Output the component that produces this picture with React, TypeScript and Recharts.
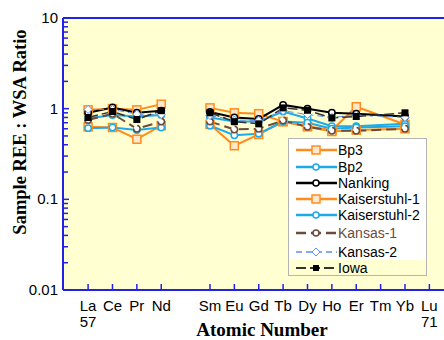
import React, { useEffect } from 'react';
import {
  LineChart,
  Line,
  XAxis,
  YAxis,
  CartesianGrid,
  ReferenceLine,
  Legend,
} from 'recharts';

// element symbols and atomic numbers, 57..71
const ELEMENTS = ['La', 'Ce', 'Pr', 'Nd', 'Pm', 'Sm', 'Eu', 'Gd', 'Tb', 'Dy', 'Ho', 'Er', 'Tm', 'Yb', 'Lu'];
const ATOMIC = [57, 58, 59, 60, 61, 62, 63, 64, 65, 66, 67, 68, 69, 70, 71];

// ratios per element (null = not measured)
const bp3 = [0.97, 1.0, 0.97, 1.12, null, 1.02, 0.9, 0.88, 0.72, 0.64, 0.58, 1.05, null, 0.67, null];
const bp2 = [0.78, 0.85, 0.82, 0.85, null, 0.8, 0.72, 0.72, 0.93, 0.78, 0.64, 0.64, null, 0.68, null];
const nanking = [0.9, 1.03, 0.9, 0.95, null, 0.92, 0.8, 0.77, 1.1, 1.0, 0.9, 0.88, null, 0.82, null];
const kaiserstuhl1 = [0.63, 0.62, 0.46, 0.65, null, 0.67, 0.39, 0.52, 0.72, 0.63, 0.56, 0.58, null, 0.6, null];
const kaiserstuhl2 = [0.61, 0.62, 0.58, 0.62, null, 0.65, 0.51, 0.53, 0.72, 0.7, 0.6, 0.62, null, 0.64, null];
const kansas1 = [0.75, 0.88, 0.6, 0.72, null, 0.72, 0.59, 0.6, 0.74, 0.63, 0.57, 0.57, null, 0.6, null];
const kansas2 = [0.98, 0.98, 0.87, 0.86, null, 0.84, 0.75, 0.74, 0.95, 0.86, 0.8, 0.85, null, 0.8, null];
const iowa = [0.8, 0.93, 0.76, 0.95, null, 0.9, 0.72, 0.68, 1.02, 0.96, 0.79, 0.82, null, 0.9, null];

const X_TICKS = [57, 58, 59, 60, 62, 63, 64, 65, 66, 67, 68, 69, 70, 71];
const Y_TICKS = [
  0.01, 0.02, 0.03, 0.04, 0.05, 0.06, 0.07, 0.08, 0.09,
  0.1, 0.2, 0.3, 0.4, 0.5, 0.6, 0.7, 0.8, 0.9,
  1, 2, 3, 4, 5, 6, 7, 8, 9, 10,
];
const Y_LABELS = [0.01, 0.1, 1, 10];

const ORANGE = '#ff8c1e';
const BLUE = '#1eaae6';
const BROWN = '#6b4c3c';
const LIGHTBLUE = '#5b8ff0';
const AXIS = '#2222e6';
const BG = '#ffffd2';
const FONT = '"Liberation Sans", Arial, sans-serif';
const SERIF = '"Liberation Serif", "Times New Roman", serif';

// Tm and Lu have no values: leave them out so Er joins Yb; Pm stays as a gap
const data = ATOMIC.map((z, i) => ({
  z,
  bp3: bp3[i],
  bp2: bp2[i],
  nanking: nanking[i],
  kaiserstuhl1: kaiserstuhl1[i],
  kaiserstuhl2: kaiserstuhl2[i],
  kansas1: kansas1[i],
  kansas2: kansas2[i],
  iowa: iowa[i],
})).filter((r) => r.z !== 69 && r.z !== 71);

const Square = ({ cx, cy, stroke, fill }: any) => {
  if (cx == null || cy == null) return null;
  return <rect x={cx - 4} y={cy - 4} width={8} height={8} fill={fill} stroke={stroke} strokeWidth={1.5} />;
};

const Diamond = ({ cx, cy, stroke }: any) => {
  if (cx == null || cy == null) return null;
  return <path d={`M${cx} ${cy - 4}L${cx + 4} ${cy}L${cx} ${cy + 4}L${cx - 4} ${cy}Z`} fill="#fff" stroke={stroke} strokeWidth={1} />;
};

const FilledSquare = ({ cx, cy }: any) => {
  if (cx == null || cy == null) return null;
  return <rect x={cx - 3.5} y={cy - 3.5} width={7} height={7} fill="#000" />;
};

const SERIES = [
  { key: 'bp3', name: 'Bp3', color: ORANGE, width: 2, dash: undefined, marker: 'square' },
  { key: 'bp2', name: 'Bp2', color: BLUE, width: 2, dash: undefined, marker: 'circle' },
  { key: 'nanking', name: 'Nanking', color: '#000', width: 2, dash: undefined, marker: 'circle' },
  { key: 'kaiserstuhl1', name: 'Kaiserstuhl-1', color: ORANGE, width: 2, dash: undefined, marker: 'square' },
  { key: 'kaiserstuhl2', name: 'Kaiserstuhl-2', color: BLUE, width: 2, dash: undefined, marker: 'circle' },
  { key: 'kansas1', name: 'Kansas-1', color: BROWN, width: 2, dash: '10 5', marker: 'circle' },
  { key: 'kansas2', name: 'Kansas-2', color: LIGHTBLUE, width: 1, dash: '6 4', marker: 'diamond' },
  { key: 'iowa', name: 'Iowa', color: '#333', width: 1.5, dash: '10 4', marker: 'filled' },
];

function dotFor(s: any) {
  if (s.marker === 'square') return (p: any) => <Square key={p.key} {...p} stroke={s.color} fill="#ffe8cc" />;
  if (s.marker === 'diamond') return (p: any) => <Diamond key={p.key} {...p} stroke={s.color} />;
  if (s.marker === 'filled') return (p: any) => <FilledSquare key={p.key} {...p} />;
  return { r: 3.2, fill: '#fff', stroke: s.color, strokeWidth: 1.5 };
}

const XTick = ({ x, y, payload }: any) => {
  const z = payload.value;
  const name = ELEMENTS[ATOMIC.indexOf(z)];
  return (
    <g>
      <line x1={x} y1={y - 1} x2={x} y2={y - 6} stroke={AXIS} strokeWidth={1.5} />
      <text x={x} y={y + 21} textAnchor="middle" fontSize={15} fontFamily={FONT} fill="#000">{name}</text>
      {(z === 57 || z === 71) && (
        <text x={x} y={y + 37} textAnchor="middle" fontSize={15} fontFamily={FONT} fill="#000">{z}</text>
      )}
    </g>
  );
};

const YTick = ({ x, y, payload }: any) => {
  const v = payload.value;
  const major = Y_LABELS.some((m) => Math.abs(m - v) < 1e-9);
  return (
    <g>
      <line x1={x + 1} y1={y} x2={x + (major ? 6 : 5)} y2={y} stroke={AXIS} strokeWidth={1.5} />
      {major && (
        <text x={x - 5} y={y + 5} textAnchor="end" fontSize={15} fontFamily={FONT} fill="#000">{String(v)}</text>
      )}
    </g>
  );
};

const LEGEND_Y = [11, 28, 44, 60, 76, 94, 113, 129];

const LegendSample = ({ s }: any) => (
  <svg width={44} height={16} style={{ position: 'absolute', left: 6, top: 0 }}>
    <line x1={1} y1={8} x2={42} y2={8} stroke={s.color} strokeWidth={s.width + 0.5} strokeDasharray={s.dash} />
    {s.marker === 'square' && <rect x={17} y={4} width={8} height={8} fill="#ffe8cc" stroke={s.color} strokeWidth={1.5} />}
    {s.marker === 'circle' && <circle cx={21} cy={8} r={3} fill="#fff" stroke={s.color} strokeWidth={1.5} />}
    {s.marker === 'diamond' && <path d="M21 4L25 8L21 12L17 8Z" fill="#fff" stroke={s.color} strokeWidth={1} />}
    {s.marker === 'filled' && <rect x={18} y={5} width={6} height={6} fill="#000" />}
  </svg>
);

const renderLegend = () => (
  <div style={{ position: 'relative', width: 139, height: 138, border: '1px solid #b4b4b4', boxSizing: 'border-box', background: BG }}>
    <div style={{ position: 'absolute', left: 0, top: 0, right: 0, height: 121, background: '#fff' }} />
    {SERIES.map((s, i) => (
      <div key={s.key} style={{ position: 'absolute', left: 0, top: LEGEND_Y[i] - 8, height: 16, width: 137 }}>
        <LegendSample s={s} />
        <span
          style={{
            position: 'absolute',
            left: 49,
            top: -1,
            fontSize: 14,
            fontFamily: FONT,
            color: s.key === 'kansas1' ? BROWN : '#000',
            whiteSpace: 'nowrap',
            lineHeight: '18px',
          }}
        >
          {s.name}
        </span>
      </div>
    ))}
  </div>
);

export default function App() {
  useEffect(() => {
    document.body.style.margin = '0';
  }, []);

  return (
    <div style={{ width: 444, height: 340, background: '#fff', position: 'relative' }}>
      <LineChart width={444} height={340} data={data} margin={{ top: 18, right: 0, bottom: 0, left: 0 }}>
        <CartesianGrid horizontal={false} vertical={false} fill={BG} />
        <XAxis
          dataKey="z"
          type="number"
          domain={[55.97, 71.6]}
          allowDataOverflow
          ticks={X_TICKS}
          interval={0}
          height={50}
          tickLine={false}
          tickSize={0}
          tickMargin={0}
          axisLine={{ stroke: AXIS, strokeWidth: 2 }}
          tick={<XTick />}
          label={{
            content: () => (
              <text x={262} y={336} textAnchor="middle" fontSize={19} fontWeight="bold" fontFamily={SERIF} fill="#000">
                Atomic Number
              </text>
            ),
          }}
        />
        <YAxis
          type="number"
          scale="log"
          domain={[0.01, 10]}
          allowDataOverflow
          ticks={Y_TICKS}
          interval={0}
          width={63}
          tickLine={false}
          tickSize={0}
          tickMargin={0}
          axisLine={{ stroke: AXIS, strokeWidth: 2 }}
          tick={<YTick />}
          label={{
            content: () => (
              <text
                x={20}
                y={132}
                transform="rotate(-90 20 132)"
                textAnchor="middle"
                dominantBaseline="central"
                fontSize={18.5}
                fontWeight="bold"
                fontFamily={SERIF}
                fill="#000"
              >
                Sample REE : WSA Ratio
              </text>
            ),
          }}
        />
        <ReferenceLine y={10} stroke={AXIS} strokeWidth={2} />
        {SERIES.map((s) => (
          <Line
            key={s.key}
            dataKey={s.key}
            name={s.name}
            stroke={s.color}
            strokeWidth={s.width}
            strokeDasharray={s.dash}
            dot={dotFor(s) as any}
            activeDot={false}
            isAnimationActive={false}
            connectNulls={false}
          />
        ))}
        <Legend
          layout="vertical"
          align="center"
          verticalAlign="middle"
          content={renderLegend}
          wrapperStyle={{ left: 288, top: 138, width: 139, height: 138 }}
        />
      </LineChart>
    </div>
  );
}
